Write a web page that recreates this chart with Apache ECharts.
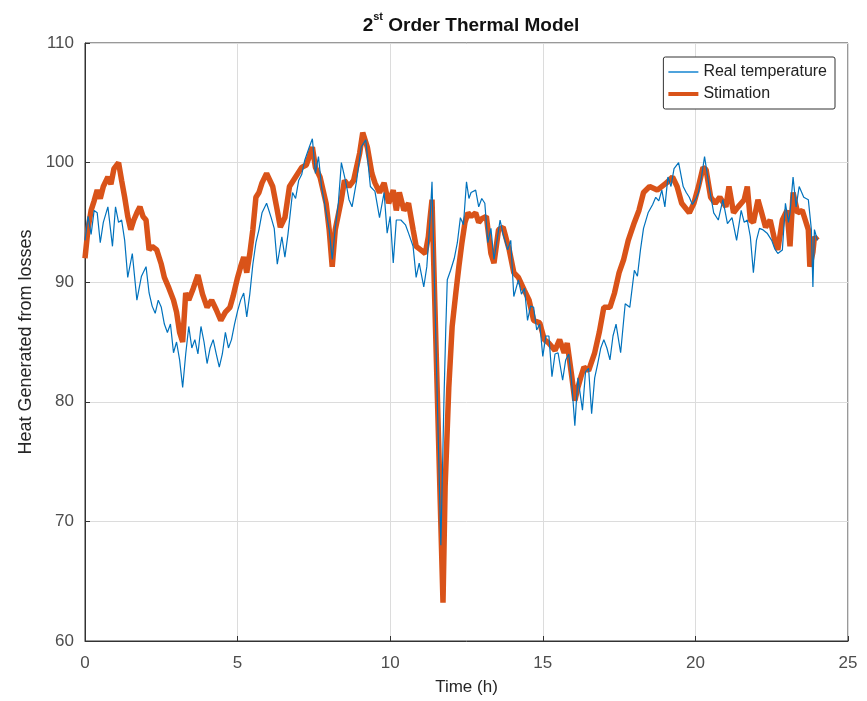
<!DOCTYPE html>
<html>
<head>
<meta charset="utf-8">
<script src="https://cdn.jsdelivr.net/npm/echarts@6/dist/echarts.min.js"></script>
<style>
html,body{margin:0;padding:0;background:#fff;}
#chart{width:867px;height:701px;}
</style>
</head>
<body>
<div id="chart"></div>
<script>
// Time (h) and values
var realTime = [0.0,0.1,0.2,0.3,0.4,0.5,0.6,0.75,0.9,1.0,1.1,1.2,1.3,1.4,1.55,1.7,1.85,2.0,2.1,2.2,2.3,2.4,2.5,2.6,2.7,2.8,2.9,3.0,3.1,3.2,3.3,3.4,3.5,3.6,3.7,3.8,3.9,4.0,4.1,4.2,4.3,4.4,4.5,4.6,4.7,4.8,4.9,5.0,5.1,5.2,5.3,5.4,5.5,5.6,5.7,5.8,5.95,6.1,6.2,6.3,6.45,6.55,6.65,6.8,6.9,7.0,7.1,7.2,7.35,7.45,7.55,7.65,7.75,7.85,8.0,8.1,8.2,8.3,8.4,8.55,8.65,8.75,8.9,9.05,9.2,9.35,9.5,9.65,9.8,9.9,10.0,10.1,10.2,10.35,10.5,10.6,10.75,10.85,10.95,11.1,11.2,11.3,11.37,11.66,11.76,11.82,11.87,11.98,12.1,12.2,12.3,12.4,12.5,12.58,12.65,12.8,12.9,13.0,13.1,13.2,13.3,13.4,13.5,13.6,13.7,13.85,13.95,14.05,14.2,14.3,14.4,14.5,14.6,14.7,14.8,14.9,15.0,15.1,15.2,15.3,15.4,15.5,15.65,15.75,15.85,15.95,16.05,16.15,16.3,16.4,16.5,16.6,16.7,16.8,16.9,17.0,17.1,17.2,17.3,17.4,17.55,17.7,17.85,18.0,18.1,18.2,18.3,18.45,18.6,18.7,18.8,18.9,19.0,19.1,19.2,19.3,19.45,19.6,19.7,19.8,19.9,20.0,20.1,20.2,20.3,20.45,20.6,20.75,20.9,21.05,21.2,21.35,21.5,21.6,21.7,21.8,21.9,22.0,22.1,22.2,22.35,22.5,22.6,22.7,22.85,22.95,23.05,23.1,23.2,23.3,23.4,23.55,23.7,23.8,23.85,23.9,24.0];
var realTemp = [93.5,95.5,94.0,96.0,95.8,93.3,95.0,96.3,93.0,96.3,95.0,95.2,93.5,90.4,92.4,88.5,90.5,91.3,89.1,88.0,87.4,88.5,87.9,86.5,85.8,86.5,84.1,85.0,83.5,81.2,84.0,86.3,84.5,85.2,84.0,86.3,85.0,83.2,84.5,85.2,84.0,82.9,84.0,85.8,84.5,85.2,86.5,87.6,88.5,89.1,87.1,89.0,91.5,93.3,94.4,95.8,96.6,95.4,94.5,91.5,93.8,92.1,94.0,97.5,97.0,98.5,99.0,100.2,101.3,102.0,99.1,100.5,98.0,96.6,94.4,91.9,94.5,96.6,100.0,98.3,96.9,96.3,98.5,101.3,101.9,98.0,97.6,95.4,97.5,94.1,95.5,91.6,95.2,95.2,94.8,94.1,93.0,90.4,91.6,89.6,91.3,95.0,98.4,68.0,80.0,86.0,90.2,91.0,92.0,93.3,95.4,94.8,98.4,97.0,97.5,97.7,96.3,97.0,96.6,93.3,94.5,91.9,93.5,95.2,94.0,92.7,93.5,88.8,90.2,89.0,89.5,86.8,88.0,87.9,86.0,86.5,83.8,85.5,85.5,82.1,84.0,84.1,81.8,83.5,84.0,81.5,78.0,82.0,79.3,82.5,82.8,79.0,82.0,83.2,84.5,85.2,84.5,83.5,85.5,86.5,84.1,88.2,87.9,91.0,90.5,92.7,94.5,95.8,96.5,97.1,96.8,97.7,96.3,98.8,98.0,99.5,100.0,98.0,97.5,97.1,96.5,96.9,97.5,98.8,100.5,98.0,95.8,95.2,96.9,94.9,95.4,93.5,96.0,95.0,95.2,93.8,90.8,93.5,94.5,94.4,94.1,93.5,92.8,92.4,92.7,96.6,95.0,95.8,98.8,96.3,98.0,97.1,96.9,94.4,89.6,94.4,93.5];

var estTime = [0.0,0.1,0.2,0.3,0.4,0.5,0.6,0.75,0.85,0.95,1.1,1.2,1.3,1.4,1.5,1.6,1.7,1.8,1.9,2.0,2.1,2.2,2.35,2.5,2.6,2.75,2.9,3.0,3.1,3.2,3.3,3.4,3.55,3.7,3.85,4.0,4.15,4.3,4.45,4.6,4.75,4.85,5.0,5.1,5.2,5.3,5.4,5.5,5.6,5.7,5.8,5.95,6.15,6.3,6.4,6.55,6.7,6.9,7.1,7.25,7.35,7.45,7.55,7.7,7.9,8.0,8.1,8.2,8.4,8.5,8.65,8.8,9.0,9.1,9.25,9.4,9.5,9.65,9.8,9.95,10.1,10.2,10.3,10.45,10.6,10.75,10.85,11.0,11.15,11.25,11.3,11.37,11.73,11.8,11.92,12.03,12.15,12.25,12.35,12.45,12.55,12.65,12.8,12.9,13.0,13.15,13.3,13.4,13.55,13.7,13.9,14.05,14.2,14.4,14.55,14.7,14.9,15.05,15.2,15.4,15.55,15.7,15.8,15.95,16.05,16.15,16.25,16.35,16.5,16.7,16.85,17.0,17.2,17.35,17.5,17.65,17.8,18.0,18.15,18.3,18.5,18.75,19.05,19.25,19.4,19.55,19.8,19.95,20.1,20.25,20.35,20.5,20.65,20.8,21.0,21.1,21.25,21.4,21.6,21.7,21.8,21.9,22.05,22.15,22.3,22.45,22.6,22.7,22.85,23.0,23.1,23.2,23.35,23.5,23.6,23.7,23.75,23.85,23.9,24.0];
var estValue = [92.0,94.5,96.0,96.8,97.7,97.0,98.0,98.8,98.2,99.5,100.0,98.5,97.1,95.5,94.4,95.2,95.8,96.3,95.5,95.2,92.7,93.0,92.7,91.5,90.4,89.5,88.5,87.5,85.8,85.0,89.1,88.5,89.5,90.6,89.0,87.9,88.5,87.7,86.8,87.5,87.9,88.8,90.4,91.3,92.1,90.8,92.4,94.4,97.1,97.5,98.3,99.1,98.0,96.0,94.6,95.4,98.0,98.8,99.6,99.8,100.5,101.3,99.6,98.8,96.6,94.4,91.3,94.4,96.9,98.5,98.0,98.5,100.8,102.5,101.3,99.1,98.3,97.5,98.3,96.6,97.7,96.0,97.5,96.0,96.6,94.4,93.0,92.7,92.4,93.8,95.2,96.9,63.2,72.9,81.2,86.3,89.1,91.3,93.3,95.0,95.8,95.5,95.8,95.0,95.3,95.5,92.4,91.6,94.4,94.6,92.7,90.8,90.4,89.3,88.5,86.8,86.6,85.2,84.9,84.3,85.2,84.1,84.9,82.1,80.1,81.2,82.1,82.9,82.6,84.1,85.8,87.9,87.9,89.1,90.8,91.9,93.5,95.0,96.0,97.5,98.0,97.7,98.3,98.8,98.0,96.6,95.8,96.6,98.0,99.6,99.4,97.1,96.6,97.1,96.3,98.0,95.8,96.3,96.9,98.0,95.2,95.0,96.9,96.0,94.6,95.2,93.5,92.7,95.2,96.0,93.0,97.5,95.8,96.0,95.2,94.4,91.3,92.5,93.8,93.5];

var xTicks = [0,5,10,15,20,25];
var yTicks = [60,70,80,90,100,110];

function pairs(t, v){ var out=[]; for(var i=0;i<t.length;i++){ out.push([t[i], v[i]]); } return out; }

var FONT = 'Liberation Sans, Arial, sans-serif';
var chart = echarts.init(document.getElementById('chart'), null, {renderer:'canvas'});
var option = {
  backgroundColor:'#ffffff',
  animation:false,
  title:{
    text:'{a|2}{b|st}{a| Order Thermal Model}',
    left:466, top:6, textAlign:'center',
    textStyle:{
      rich:{
        a:{fontFamily:FONT, fontSize:19, fontWeight:'bold', color:'#111', verticalAlign:'bottom', lineHeight:24},
        b:{fontFamily:FONT, fontSize:11, fontWeight:'bold', color:'#111', verticalAlign:'top', lineHeight:24, padding:[0,0,10,0]}
      }
    }
  },
  legend:{
    orient:'vertical', right:32, top:57,
    backgroundColor:'#fff', borderColor:'#333', borderWidth:1, borderRadius:2,
    padding:[7,8,7,5], itemGap:6, itemWidth:30, itemHeight:17,
    textStyle:{fontFamily:FONT, fontSize:16, color:'#222'},
    data:[{name:'Real temperature', icon:'path://M0,0 L30,0 L30,2 L0,2 Z', itemStyle:{color:'#4fa3dc'}},
          {name:'Stimation', icon:'path://M0,0 L30,0 L30,4 L0,4 Z', itemStyle:{color:'#d95319'}}]
  },
  grid:{left:85, right:19, top:43, bottom:60, show:true, borderColor:'#333', borderWidth:1, backgroundColor:'#fff'},
  xAxis:{
    type:'value', min:xTicks[0], max:xTicks[xTicks.length-1], interval:5,
    name:'Time (h)', nameLocation:'middle', nameGap:38,
    nameTextStyle:{fontFamily:FONT, fontSize:17, color:'#262626'},
    axisLine:{show:true, lineStyle:{color:'#333', width:1}},
    axisTick:{show:true, inside:true, length:5, lineStyle:{color:'#333'}},
    axisLabel:{fontFamily:FONT, fontSize:17, color:'#4d4d4d', margin:14},
    splitLine:{show:true, lineStyle:{color:'#dcdcdc', width:1}}
  },
  yAxis:{
    type:'value', min:yTicks[0], max:yTicks[yTicks.length-1], interval:10,
    name:'Heat Generated from losses', nameLocation:'middle', nameGap:48,
    nameTextStyle:{fontFamily:FONT, fontSize:18, color:'#262626'},
    axisLine:{show:true, lineStyle:{color:'#333', width:1}},
    axisTick:{show:true, inside:true, length:5, lineStyle:{color:'#333'}},
    axisLabel:{fontFamily:FONT, fontSize:17, color:'#4d4d4d', margin:11},
    splitLine:{show:true, lineStyle:{color:'#dcdcdc', width:1}}
  },
  series:[
    {name:'Real temperature', type:'line', showSymbol:false, symbol:'none', z:3,
     lineStyle:{color:'#0072bd', width:1.2}, itemStyle:{color:'#0072bd'},
     data:pairs(realTime, realTemp)},
    {name:'Stimation', type:'line', showSymbol:false, symbol:'none', z:2,
     lineStyle:{color:'#d95319', width:5.5}, itemStyle:{color:'#d95319'},
     data:pairs(estTime, estValue)}
  ]
};
chart.setOption(option);
</script>
</body>
</html>
